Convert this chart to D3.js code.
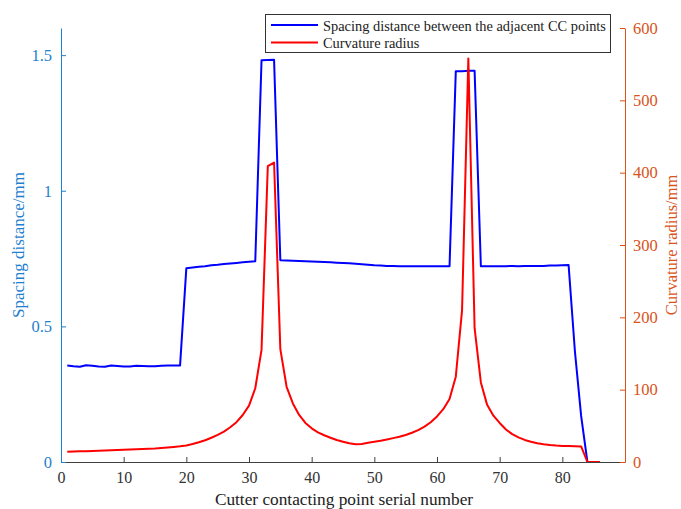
<!DOCTYPE html>
<html>
<head>
<meta charset="utf-8">
<script src="https://cdn.jsdelivr.net/npm/d3@7"></script>
<style>
  html, body { margin: 0; padding: 0; background: #ffffff; }
  svg { display: block; font-family: "Liberation Serif", "Times New Roman", serif; }
</style>
</head>
<body>
<svg id="chart" width="681" height="509"></svg>
<script>
// Cutter contacting point serial numbers
const serialNumbers = [
  1, 2, 3, 4, 5, 6, 7, 8, 9, 10, 11, 12, 13, 14, 15, 16, 17, 18, 19, 20,
  21, 22, 23, 24, 25, 26, 27, 28, 29, 30, 31, 32, 33, 34, 35, 36, 37, 38, 39, 40,
  41, 42, 43, 44, 45, 46, 47, 48, 49, 50, 51, 52, 53, 54, 55, 56, 57, 58, 59, 60,
  61, 62, 63, 64, 65, 66, 67, 68, 69, 70, 71, 72, 73, 74, 75, 76, 77, 78, 79, 80,
  81, 82, 83, 84, 85, 86
];

// Spacing distance between the adjacent CC points (mm)
const spacingDistance = [
  0.356, 0.353, 0.351, 0.357, 0.355, 0.352, 0.351, 0.356, 0.354, 0.352,
  0.352, 0.355, 0.354, 0.353, 0.353, 0.355, 0.356, 0.356, 0.356,
  0.714, 0.717, 0.720, 0.722, 0.725, 0.727, 0.730, 0.732, 0.734, 0.736, 0.738, 0.740,
  1.481, 1.482, 1.483,
  0.744, 0.743, 0.742, 0.741, 0.740, 0.739, 0.738, 0.737, 0.736, 0.735,
  0.734, 0.733, 0.731, 0.729, 0.727, 0.725, 0.724, 0.723, 0.723, 0.722,
  0.722, 0.722, 0.722, 0.722, 0.722, 0.722, 0.722, 0.722,
  1.441, 1.441, 1.442, 1.442,
  0.722, 0.722, 0.722, 0.722, 0.722, 0.723, 0.722, 0.723, 0.723, 0.723,
  0.723, 0.724, 0.724, 0.725, 0.726,
  0.41, 0.17, 0, 0, 0
];

// Curvature radius (mm)
const curvatureRadius = [
  14, 14.5, 14.8, 15, 15.3, 15.6, 16, 16.3, 16.7, 17.0,
  17.2, 17.5, 17.9, 18.3, 18.7, 19.3, 20, 20.8, 21.7, 22.8,
  24.8, 27.2, 30, 33.5, 37.5, 42, 48, 55, 65, 78,
  102, 155, 409, 414, 156, 104, 81, 65, 54, 46.5,
  41, 37, 33.6, 30.4, 28, 25.8, 24.4, 25, 26.5, 28,
  29.5, 31.2, 33, 35, 37.3, 40.4, 44, 49, 55, 63,
  73, 87, 118, 210, 558, 185, 110, 79, 64, 54,
  45, 38.5, 34, 30.5, 28, 26, 24.6, 23.6, 22.8, 22.2,
  22, 21.8, 21.6, 0, 0, 0
];

const xTicks = [0, 10, 20, 30, 40, 50, 60, 70, 80];
const leftTicks = [0, 0.5, 1, 1.5];
const rightTicks = [0, 100, 200, 300, 400, 500, 600];

const legendLabels = ["Spacing distance between the adjacent CC points", "Curvature radius"];

const plot = { left: 61, right: 625, top: 28, bottom: 462 };
const leftColor = "#1f80cf";
const rightColor = "#d95319";
const axisGray = "#404040";

const svg = d3.select("#chart");

const x = d3.scaleLinear().domain([0, 90]).range([plot.left, plot.right]);
const yL = d3.scaleLinear().domain([0, 1.6]).range([plot.bottom, plot.top]);
const yR = d3.scaleLinear().domain([0, 600]).range([plot.bottom, plot.top]);

// Series
const spacingPts = serialNumbers.map((s, i) => [s, spacingDistance[i]]);
const radiusPts = serialNumbers.map((s, i) => [s, curvatureRadius[i]]);

svg.append("path")
  .datum(spacingPts)
  .attr("fill", "none")
  .attr("stroke", "#0000ff")
  .attr("stroke-width", 2)
  .attr("stroke-linejoin", "round")
  .attr("d", d3.line().x(d => x(d[0])).y(d => yL(d[1])));

svg.append("path")
  .datum(radiusPts)
  .attr("fill", "none")
  .attr("stroke", "#ff0000")
  .attr("stroke-width", 2)
  .attr("stroke-linejoin", "round")
  .attr("d", d3.line().x(d => x(d[0])).y(d => yR(d[1])));

// X axis (ticks point inward)
const xAxis = svg.append("g")
  .attr("transform", `translate(0,${plot.bottom})`)
  .call(d3.axisBottom(x).tickValues(xTicks).tickSizeInner(-5).tickSizeOuter(0).tickPadding(10).tickFormat(d3.format("d")));
xAxis.select(".domain").attr("stroke", axisGray);
xAxis.selectAll(".tick line").attr("stroke", axisGray);
xAxis.selectAll("text").attr("fill", "#333333").attr("font-size", 16).attr("font-family", "Liberation Serif, serif");

// Left axis
const leftAxis = svg.append("g")
  .attr("transform", `translate(${plot.left},0)`)
  .call(d3.axisLeft(yL).tickValues(leftTicks).tickSizeInner(-5).tickSizeOuter(0).tickPadding(9).tickFormat(d => String(d)));
leftAxis.select(".domain").attr("stroke", leftColor);
leftAxis.selectAll(".tick line").attr("stroke", leftColor);
leftAxis.selectAll("text").attr("fill", leftColor).attr("font-size", 16.5).attr("font-family", "Liberation Serif, serif");

// Right axis
const rightAxis = svg.append("g")
  .attr("transform", `translate(${plot.right},0)`)
  .call(d3.axisRight(yR).tickValues(rightTicks).tickSizeInner(-5).tickSizeOuter(0).tickPadding(8).tickFormat(d3.format("d")));
rightAxis.select(".domain").attr("stroke", rightColor);
rightAxis.selectAll(".tick line").attr("stroke", rightColor);
rightAxis.selectAll("text").attr("fill", rightColor).attr("font-size", 16.5).attr("font-family", "Liberation Serif, serif");

// Axis titles
svg.append("text")
  .attr("x", (plot.left + plot.right) / 2 + 1)
  .attr("y", 505)
  .attr("text-anchor", "middle")
  .attr("font-size", 17.3)
  .attr("fill", "#222222")
  .text("Cutter contacting point serial number");

svg.append("text")
  .attr("transform", `translate(24,${(plot.top + plot.bottom) / 2}) rotate(-90)`)
  .attr("text-anchor", "middle")
  .attr("font-size", 17)
  .attr("fill", leftColor)
  .text("Spacing distance/mm");

svg.append("text")
  .attr("transform", `translate(677,${(plot.top + plot.bottom) / 2}) rotate(-90)`)
  .attr("text-anchor", "middle")
  .attr("font-size", 16.5)
  .attr("fill", rightColor)
  .text("Curvature radius/mm");

// Legend
const legend = svg.append("g");
legend.append("rect")
  .attr("x", 265.5).attr("y", 14.5)
  .attr("width", 345).attr("height", 38)
  .attr("fill", "#ffffff")
  .attr("stroke", "#333333")
  .attr("stroke-width", 1);

const legendColors = ["#0000ff", "#ff0000"];
const legendRows = [25, 42.5];
legendLabels.forEach((label, i) => {
  legend.append("line")
    .attr("x1", 271).attr("x2", 318)
    .attr("y1", legendRows[i]).attr("y2", legendRows[i])
    .attr("stroke", legendColors[i])
    .attr("stroke-width", 2);
  legend.append("text")
    .attr("x", 323)
    .attr("y", legendRows[i] + 5.5)
    .attr("font-size", 14.4)
    .attr("fill", "#222222")
    .text(label);
});
</script>
</body>
</html>
